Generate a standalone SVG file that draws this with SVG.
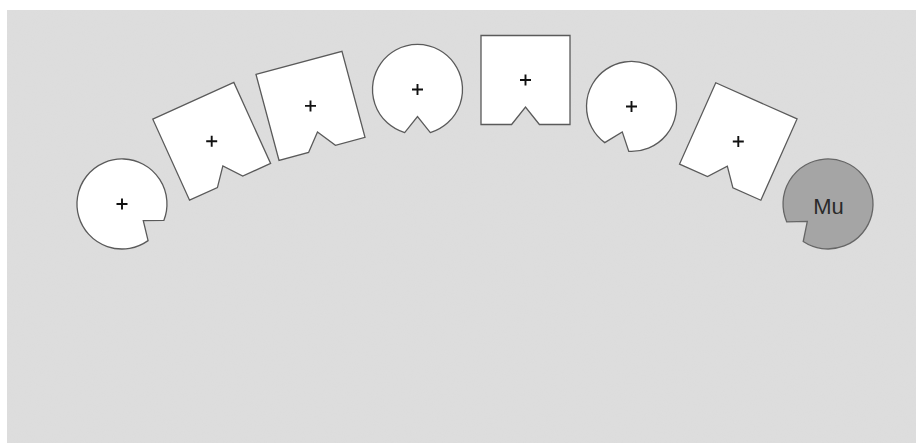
<svg xmlns="http://www.w3.org/2000/svg" xmlns:xlink="http://www.w3.org/1999/xlink" width="916" height="447" viewBox="0 0 916 447">
<style>
.shape{fill:#ffffff;stroke:#5a5a5a;stroke-width:1.3;stroke-linejoin:miter}
.mu{fill:#a5a5a5;stroke:#666666;stroke-width:1.3}
.plus{stroke:#111111;stroke-width:1.9;fill:none}
.lbl{font-family:"Liberation Sans",Arial,sans-serif;font-size:22px;fill:#2a2a2a;text-anchor:middle}
</style>
<defs>
<path id="circ" d="M12.8,43.1 A45,45 0 1 0 -12.8,43.1 L0,27 Z"/>
<path id="sq" d="M-44.5,-44.5 H44.5 V44.5 H13.9 L0,27 L-13.9,44.5 H-44.5 Z"/>
<path id="plus" d="M-5.5,0 H5.5 M0,-5.5 V5.5"/>
<filter id="grain" x="0" y="0" width="100%" height="100%">
<feTurbulence type="fractalNoise" baseFrequency="0.9" numOctaves="2" seed="3" result="n"/>
<feColorMatrix type="matrix" values="0 0 0 0 0.6  0 0 0 0 0.6  0 0 0 0 0.6  0 0 0 0.3 0" in="n" result="g"/>
<feComposite in="g" in2="SourceGraphic" operator="in"/>
</filter>
</defs>
<rect x="0" y="0" width="916" height="447" fill="#ffffff"/>
<g id="background">
<rect x="7" y="10" width="909" height="433" fill="#dedede"/>
<rect x="7" y="10" width="909" height="433" fill="#dedede" filter="url(#grain)" opacity="0.4"/>
</g>
<g id="node1" transform="translate(122,204) rotate(-52)">
<use xlink:href="#circ" href="#circ" class="shape"/>
</g>
<use xlink:href="#plus" href="#plus" class="plus" x="122" y="204"/>
<g id="node2" transform="translate(211.7,141.3) rotate(-24.4)">
<use xlink:href="#sq" href="#sq" class="shape"/>
<use xlink:href="#plus" href="#plus" class="plus" transform="rotate(24.4)"/>
</g>
<g id="node3" transform="translate(310.5,105.9) rotate(-15)">
<use xlink:href="#sq" href="#sq" class="shape"/>
<use xlink:href="#plus" href="#plus" class="plus" transform="rotate(15)"/>
</g>
<g id="node4" transform="translate(417.5,89.5)">
<use xlink:href="#circ" href="#circ" class="shape"/>
<use xlink:href="#plus" href="#plus" class="plus"/>
</g>
<g id="node5" transform="translate(525.5,80)">
<use xlink:href="#sq" href="#sq" class="shape"/>
<use xlink:href="#plus" href="#plus" class="plus"/>
</g>
<g id="node6" transform="translate(631.5,106.5) rotate(20)">
<use xlink:href="#circ" href="#circ" class="shape"/>
<use xlink:href="#plus" href="#plus" class="plus" transform="rotate(-20)"/>
</g>
<g id="node7" transform="translate(738.3,141.5) rotate(24)">
<use xlink:href="#sq" href="#sq" class="shape"/>
<use xlink:href="#plus" href="#plus" class="plus" transform="rotate(-24)"/>
</g>
<g id="node8">
<use xlink:href="#circ" href="#circ" class="mu" transform="translate(828,204) rotate(50)"/>
<text class="lbl" x="828.5" y="213.5">Mu</text>
</g>
</svg>
